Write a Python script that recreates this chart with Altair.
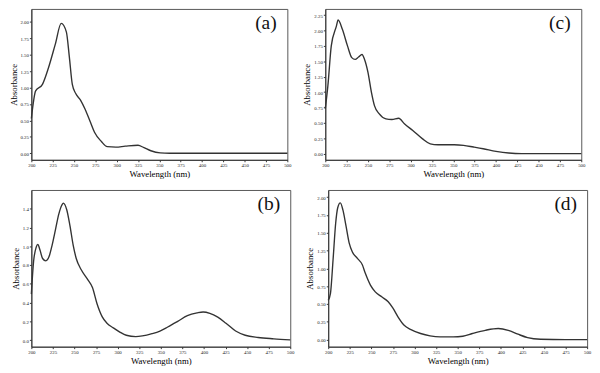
import altair as alt
import pandas as pd

# ---- data ----
a_wl = [200, 205, 213, 220, 228, 235, 241, 244.5, 248, 252, 257.6, 263, 269, 274, 282, 289, 299, 310, 325, 332, 340, 351, 362, 400, 450, 500]
a_ab = [0.53, 0.95, 1.05, 1.30, 1.66, 1.98, 1.85, 1.47, 1.05, 0.91, 0.81, 0.67, 0.48, 0.32, 0.18, 0.10, 0.094, 0.108, 0.122, 0.085, 0.038, 0.005, 0.0, 0.0, 0.0, 0.0]

c_wl = [200, 203, 207, 213, 215, 220, 226, 231, 235, 239, 243, 246, 250, 254, 257.6, 263, 271, 278, 286, 293, 302.5, 314, 323, 332, 351, 362, 373.6, 385, 400, 415, 430, 465, 500]
c_ab = [0.73, 1.10, 1.75, 2.07, 2.17, 2.02, 1.75, 1.56, 1.53, 1.57, 1.61, 1.53, 1.32, 1.00, 0.78, 0.65, 0.565, 0.555, 0.575, 0.48, 0.377, 0.24, 0.16, 0.145, 0.145, 0.135, 0.108, 0.08, 0.038, 0.01, 0.0, 0.0, 0.0]

b_wl = [200, 202.6, 205.6, 207.5, 210, 213, 216.8, 220.5, 224, 228, 231.7, 235.4, 237, 241, 244.7, 248.5, 252, 257.8, 265, 270.8, 276, 282, 287.6, 295, 302.5, 310, 321, 328.6, 339.8, 349, 358, 369.6, 380.8, 392, 399, 406.8, 416, 425.5, 436.7, 447.8, 462.8, 481, 500]
b_ab = [0.49, 0.84, 0.99, 1.02, 0.96, 0.87, 0.845, 0.89, 1.01, 1.18, 1.34, 1.44, 1.46, 1.39, 1.22, 1.01, 0.87, 0.75, 0.65, 0.56, 0.39, 0.25, 0.18, 0.13, 0.086, 0.052, 0.038, 0.045, 0.069, 0.097, 0.14, 0.20, 0.26, 0.29, 0.30, 0.286, 0.245, 0.18, 0.097, 0.052, 0.028, 0.014, 0.003]

d_wl = [200, 202.6, 205.6, 208.6, 211, 214, 217, 220.7, 224.4, 228, 233.8, 239.5, 243, 248.9, 254.5, 262, 269.5, 275, 280.8, 288, 295.9, 307, 318, 329.7, 344.7, 356, 367, 382, 397, 408.6, 419.9, 431, 446, 475, 500]
d_ab = [0.55, 0.65, 1.12, 1.63, 1.85, 1.92, 1.82, 1.59, 1.35, 1.23, 1.14, 1.05, 0.93, 0.765, 0.67, 0.60, 0.53, 0.44, 0.32, 0.20, 0.14, 0.085, 0.052, 0.038, 0.038, 0.047, 0.085, 0.13, 0.155, 0.13, 0.075, 0.028, 0.005, 0.0, 0.0]

x_ticks = [200, 225, 250, 275, 300, 325, 350, 375, 400, 425, 450, 475, 500]
y_ticks_a = [0.0, 0.25, 0.5, 0.75, 1.0, 1.25, 1.5, 1.75, 2.0]
y_ticks_c = [0.0, 0.25, 0.5, 0.75, 1.0, 1.25, 1.5, 1.75, 2.0, 2.25]
y_ticks_b = [0.0, 0.2, 0.4, 0.6, 0.8, 1.0, 1.2, 1.4]
y_ticks_d = [0.0, 0.25, 0.5, 0.75, 1.0, 1.25, 1.5, 1.75, 2.0]

FONT = "Liberation Serif"


def panel(wl, ab, label, ydom, yticks, yfmt, w, h):
    df = pd.DataFrame({"wl": wl, "ab": ab})
    line = alt.Chart(df).mark_line(color="#333333", strokeWidth=1.4, interpolate="monotone").encode(
        x=alt.X("wl:Q", scale=alt.Scale(domain=[200, 500], nice=False, zero=False),
                axis=alt.Axis(values=x_ticks, format="d", title="Wavelength (nm)")),
        y=alt.Y("ab:Q", scale=alt.Scale(domain=ydom, nice=False, zero=False),
                axis=alt.Axis(values=yticks, format=yfmt, title="Absorbance")),
    )
    txt = alt.Chart(pd.DataFrame({"t": [label]})).mark_text(
        font=FONT, fontSize=20, color="#111111", align="center", baseline="middle"
    ).encode(text="t:N", x=alt.value(w - 22), y=alt.value(15))
    return alt.layer(line, txt).properties(width=w, height=h)


pa = panel(a_wl, a_ab, "(a)", [-0.1, 2.2], y_ticks_a, ".2f", 263, 155)
pc = panel(c_wl, c_ab, "(c)", [-0.1, 2.35], y_ticks_c, ".2f", 263, 155)
pb = panel(b_wl, b_ab, "(b)", [-0.07, 1.6], y_ticks_b, ".1f", 266, 161)
pd_ = panel(d_wl, d_ab, "(d)", [-0.1, 2.1], y_ticks_d, ".2f", 266, 161)

chart = alt.vconcat(
    alt.hconcat(pa, pc, spacing=10),
    alt.hconcat(pb, pd_, spacing=10),
    spacing=10,
).properties(
    padding={"left": 0, "top": -5, "right": 0, "bottom": 0}, background="white"
).configure_view(
    stroke="#555555", strokeWidth=1
).configure_axis(
    grid=False, domainColor="#333333", tickColor="#333333", tickSize=2,
    labelFont=FONT, labelFontSize=5, labelColor="#222222", labelPadding=1,
    labelOverlap=False, labelFlush=False,
    titleFont=FONT, titleFontWeight="normal", titleColor="#000000", titleFontSize=9, titlePadding=2,
)

chart.save("out.html", embed_options={"renderer": "svg", "actions": False})
